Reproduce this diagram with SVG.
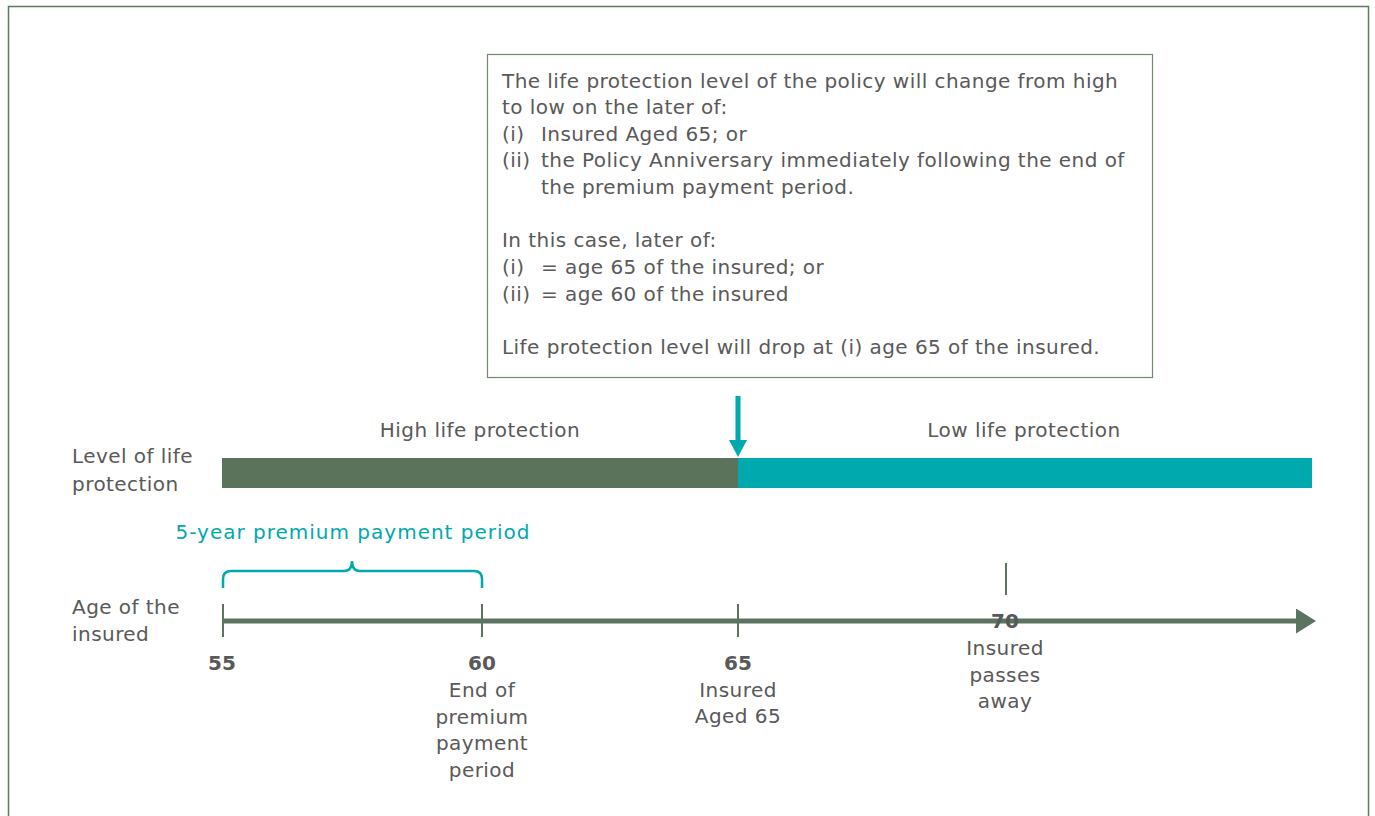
<svg xmlns="http://www.w3.org/2000/svg" width="1375" height="816" viewBox="0 0 1375 816">
<style>
text{font-family:"DejaVu Sans","Liberation Sans",sans-serif;font-size:20px;letter-spacing:0.45px;fill:#595959}
.c{text-anchor:middle}
.b{font-weight:bold;letter-spacing:0}
.t{fill:#00a9ad;letter-spacing:1px}
.tick{stroke:#5b7360;stroke-width:2}
</style>
<defs>
<marker id="ah" markerWidth="4" markerHeight="5" refX="0" refY="2.5" orient="auto" markerUnits="strokeWidth">
<path d="M0,0 L4,2.5 L0,5 Z" fill="#5b7360"/>
</marker>
</defs>
<rect x="0" y="0" width="1375" height="816" fill="#fff"/>
<rect id="frame" x="8.5" y="6.5" width="1360" height="820" fill="none" stroke="#5b7a5b" stroke-width="1.5"/>
<g id="note">
<rect x="487.5" y="54.5" width="665" height="323" fill="#fff" stroke="#6f8a6f" stroke-width="1.2"/>
<text x="502" y="88">The life protection level of the policy will change from high</text>
<text x="502" y="114">to low on the later of:</text>
<text x="502" y="141">(i)</text><text x="541" y="141">Insured Aged 65; or</text>
<text x="502" y="167">(ii)</text><text x="541" y="167">the Policy Anniversary immediately following the end of</text>
<text x="541" y="194">the premium payment period.</text>
<text x="502" y="247">In this case, later of:</text>
<text x="502" y="274">(i)</text><text x="541" y="274">= age 65 of the insured; or</text>
<text x="502" y="301">(ii)</text><text x="541" y="301">= age 60 of the insured</text>
<text x="502" y="354">Life protection level will drop at (i) age 65 of the insured.</text>
</g>
<g id="protection">
<text x="72" y="463">Level of life</text>
<text x="72" y="491">protection</text>
<text class="c" x="480" y="437">High life protection</text>
<text class="c" x="1024" y="437">Low life protection</text>
<rect x="222" y="458" width="516" height="30" fill="#5b735b"/>
<rect x="738" y="458" width="574" height="30" fill="#00a9ad"/>
</g>
<g id="connectors">
<line x1="738" y1="396" x2="738" y2="441" stroke="#00a9ad" stroke-width="5"/>
<path d="M729,440 L747,440 L738,457 Z" fill="#00a9ad"/>
<path d="M223,588 L223,579 Q223,571 231,571 L344,571 Q352,571 352,561 Q352,571 360,571 L474,571 Q482,571 482,579 L482,588" fill="none" stroke="#00a9ad" stroke-width="2.5"/>
<line x1="222" y1="621" x2="1296" y2="621" stroke="#5b7360" stroke-width="5" marker-end="url(#ah)"/>
<line class="tick" x1="223" y1="604" x2="223" y2="637"/>
<line class="tick" x1="482" y1="604" x2="482" y2="637"/>
<line class="tick" x1="738" y1="604" x2="738" y2="637"/>
<line class="tick" x1="1006" y1="563" x2="1006" y2="595"/>
</g>
<g id="period">
<text class="c t" x="353" y="539">5-year premium payment period</text>
</g>
<g id="age">
<text x="72" y="614">Age of the</text>
<text x="72" y="641">insured</text>
<text class="c b" x="222" y="670">55</text>
<text class="c b" x="482" y="670">60</text>
<text class="c" x="482" y="697">End of</text>
<text class="c" x="482" y="724">premium</text>
<text class="c" x="482" y="750">payment</text>
<text class="c" x="482" y="777">period</text>
<text class="c b" x="738" y="670">65</text>
<text class="c" x="738" y="697">Insured</text>
<text class="c" x="738" y="723">Aged 65</text>
<text class="c b" x="1005" y="628">70</text>
<text class="c" x="1005" y="655">Insured</text>
<text class="c" x="1005" y="682">passes</text>
<text class="c" x="1005" y="708">away</text>
</g>
</svg>
